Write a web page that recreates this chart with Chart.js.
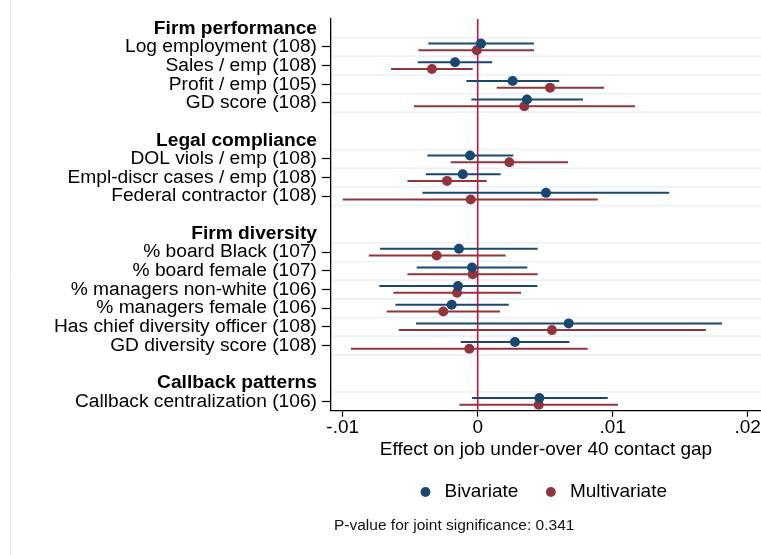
<!DOCTYPE html>
<html>
<head>
<meta charset="utf-8">
<script src="https://cdn.jsdelivr.net/npm/chart.js@4/dist/chart.umd.min.js"></script>
<style>
  html, body { margin: 0; padding: 0; background: #ffffff; overflow: hidden; }
  #wrap { position: relative; width: 761px; height: 555px; }
  canvas { display: block; }
</style>
</head>
<body>
<div id="wrap"><canvas id="c" width="761" height="555"></canvas></div>
<script>
// ---------------- data ----------------
const groups = ['Firm performance', 'Legal compliance', 'Firm diversity', 'Callback patterns'];
const categories = [
  'Log employment (108)', 'Sales / emp (108)', 'Profit / emp (105)', 'GD score (108)',
  'DOL viols / emp (108)', 'Empl-discr cases / emp (108)', 'Federal contractor (108)',
  '% board Black (107)', '% board female (107)', '% managers non-white (106)',
  '% managers female (106)', 'Has chief diversity officer (108)', 'GD diversity score (108)',
  'Callback centralization (106)'
];
const categoryGroup = [0, 0, 0, 0, 1, 1, 1, 2, 2, 2, 2, 2, 2, 3];

const bivCoef = [0.00024, -0.00168, 0.00259, 0.00365, -0.00057, -0.00111, 0.00506, -0.00139, -0.00042, -0.00146, -0.00193, 0.00674, 0.00276, 0.00457];
const bivLo   = [-0.00366, -0.00444, -0.00084, -0.00047, -0.00373, -0.00385, -0.00410, -0.00724, -0.00452, -0.00729, -0.00610, -0.00457, -0.00126, -0.00042];
const bivHi   = [0.00417, 0.00108, 0.00604, 0.00780, 0.00264, 0.00170, 0.01419, 0.00444, 0.00368, 0.00442, 0.00230, 0.01810, 0.00679, 0.00963];

const multiCoef = [-0.00007, -0.00339, 0.00536, 0.00345, 0.00234, -0.00227, -0.00052, -0.00304, -0.00037, -0.00153, -0.00255, 0.00550, -0.00062, 0.00452];
const multiLo   = [-0.00440, -0.00642, 0.00141, -0.00472, -0.00200, -0.00521, -0.01000, -0.00807, -0.00521, -0.00625, -0.00674, -0.00585, -0.00939, -0.00136];
const multiHi   = [0.00417, -0.00037, 0.00936, 0.01165, 0.00669, 0.00067, 0.00889, 0.00207, 0.00444, 0.00321, 0.00165, 0.01691, 0.00815, 0.01039];

const xTickValues = [-0.01, 0, 0.01, 0.02];
const xTickLabels = ['-.01', '0', '.01', '.02'];
const seriesNames = ['Bivariate', 'Multivariate'];
const xTitle = 'Effect on job under-over 40 contact gap';
const noteText = 'P-value for joint significance: 0.341';

// ---------------- layout of rows (headers, items, blank gaps) ----------------
const rows = [];
const catRow = [];
groups.forEach((g, gi) => {
  if (gi > 0) rows.push({ label: '', type: 'blank' });
  rows.push({ label: g, type: 'header' });
  categories.forEach((c, ci) => {
    if (categoryGroup[ci] === gi) {
      catRow[ci] = rows.length;
      rows.push({ label: c, type: 'item' });
    }
  });
});

const NAVY = '#1a476f';
const MAROON = '#90353b';
const FONT = '"Liberation Sans", Arial, Helvetica, sans-serif';
const OFF = 0.18;
const TARGET_BOTTOM = 410.7;

const series = [
  { coef: bivCoef, lo: bivLo, hi: bivHi, color: NAVY, off: -OFF },
  { coef: multiCoef, lo: multiLo, hi: multiHi, color: MAROON, off: OFF }
];

const extras = {
  id: 'coefExtras',
  afterLayout(chart) {
    // fine placement of the legend row and the note
    if (chart.legend) { chart.legend.left -= 4.5; chart.legend.right -= 4.5; }
    const sub = chart.boxes.find(b => b.options && b.options.text === noteText);
    if (sub) { sub.left += 3; sub.right += 3; }
  },
  beforeDraw(chart) {
    const ctx = chart.ctx;
    ctx.save();
    ctx.strokeStyle = '#e3ebef';
    ctx.lineWidth = 1;
    ctx.beginPath();
    ctx.moveTo(10.5, 0);
    ctx.lineTo(10.5, chart.height);
    ctx.stroke();
    ctx.restore();
  },
  beforeDatasetsDraw(chart) {
    const { ctx, chartArea, scales } = chart;
    const xs = scales.x, ys = scales.y;
    ctx.save();
    const bounds = new Set();
    rows.forEach((r, i) => { if (r.type === 'item') { bounds.add(i - 0.5); bounds.add(i + 0.5); } });
    ctx.strokeStyle = '#eaf0f3';
    ctx.lineWidth = 1.6;
    bounds.forEach(b => {
      if (b >= rows.length - 0.5) return;
      const py = ys.getPixelForValue(b);
      ctx.beginPath();
      ctx.moveTo(chartArea.left + 1, py);
      ctx.lineTo(chartArea.right, py);
      ctx.stroke();
    });
    const x0 = xs.getPixelForValue(0);
    ctx.strokeStyle = '#c4163c';
    ctx.lineWidth = 1.6;
    ctx.beginPath();
    ctx.moveTo(x0, chartArea.top);
    ctx.lineTo(x0, chartArea.bottom);
    ctx.stroke();
    ctx.lineWidth = 2;
    series.forEach(s => {
      ctx.strokeStyle = s.color;
      s.coef.forEach((v, i) => {
        const py = ys.getPixelForValue(catRow[i] + s.off);
        ctx.beginPath();
        ctx.moveTo(xs.getPixelForValue(s.lo[i]), py);
        ctx.lineTo(xs.getPixelForValue(s.hi[i]), py);
        ctx.stroke();
      });
    });
    ctx.restore();
  }
};

const datasets = series.map((s, si) => ({
  label: seriesNames[si],
  data: s.coef.map((v, i) => ({ x: v, y: catRow[i] + s.off })),
  backgroundColor: s.color,
  borderColor: s.color,
  borderWidth: 0,
  pointRadius: 5,
  pointHoverRadius: 5,
  pointStyle: 'circle',
  showLine: false
}));

const chart = new Chart(document.getElementById('c'), {
  type: 'scatter',
  data: { datasets },
  plugins: [extras],
  options: {
    responsive: false,
    animation: false,
    events: [],
    devicePixelRatio: 1,
    layout: { autoPadding: false, padding: { top: 19, left: 0, right: 0, bottom: 0 } },
    scales: {
      x: {
        type: 'linear',
        min: -0.01087,
        max: 0.02099,
        afterBuildTicks(scale) { scale.ticks = xTickValues.map(v => ({ value: v })); },
        afterFit(scale) { scale.height = 48.8; scale.paddingLeft = 0; scale.paddingRight = 0; },
        ticks: {
          callback: (v, i) => xTickLabels[i],
          font: { family: FONT, size: 19 },
          color: '#000',
          padding: 0,
          maxRotation: 0,
          autoSkip: false
        },
        grid: { drawOnChartArea: false, drawTicks: true, tickLength: 6, tickColor: '#000', tickWidth: 1.2 },
        border: { display: true, color: '#000', width: 1.3 },
        title: {
          display: true,
          text: xTitle,
          font: { family: FONT, size: 19, lineHeight: 1 },
          color: '#000',
          padding: { top: 0, bottom: 0 }
        }
      },
      y: {
        type: 'linear',
        reverse: true,
        min: -0.5,
        max: rows.length - 0.5,
        afterBuildTicks(scale) { scale.ticks = rows.map((r, i) => ({ value: i })); },
        afterFit(scale) { scale.width = 331; scale.paddingTop = 0; scale.paddingBottom = 0; },
        ticks: {
          autoSkip: false,
          callback: (v, i) => rows[i] ? rows[i].label : '',
          font: (ctx) => ({
            family: FONT,
            size: 19.2,
            weight: (rows[ctx.index] && rows[ctx.index].type === 'header') ? 'bold' : 'normal'
          }),
          color: '#000',
          padding: 5
        },
        grid: {
          drawOnChartArea: false,
          drawTicks: true,
          tickLength: 9,
          tickWidth: 1.2,
          tickColor: (ctx) => (rows[ctx.index] && rows[ctx.index].type === 'item') ? '#000' : 'rgba(0,0,0,0)'
        },
        border: { display: true, color: '#000', width: 1.3 }
      }
    },
    plugins: {
      tooltip: { enabled: false },
      legend: {
        display: true,
        position: 'bottom',
        fullSize: false,
        labels: {
          usePointStyle: true,
          pointStyle: 'circle',
          boxWidth: 19,
          boxHeight: 7,
          padding: 23,
          color: '#000',
          font: { family: FONT, size: 19 }
        }
      },
      subtitle: {
        display: true,
        text: noteText,
        position: 'bottom',
        align: 'start',
        fullSize: false,
        color: '#111',
        font: { family: FONT, size: 15.5, weight: 'normal' },
        padding: { top: 5.2, bottom: 19.7 }
      }
    }
  }
});

// keep the plot area bottom at the reference position
for (let k = 0; k < 3; k++) {
  const db = chart.chartArea.bottom - TARGET_BOTTOM;
  if (Math.abs(db) < 0.3) break;
  chart.options.plugins.subtitle.padding.bottom += db;
  chart.update('none');
}
</script>
</body>
</html>
